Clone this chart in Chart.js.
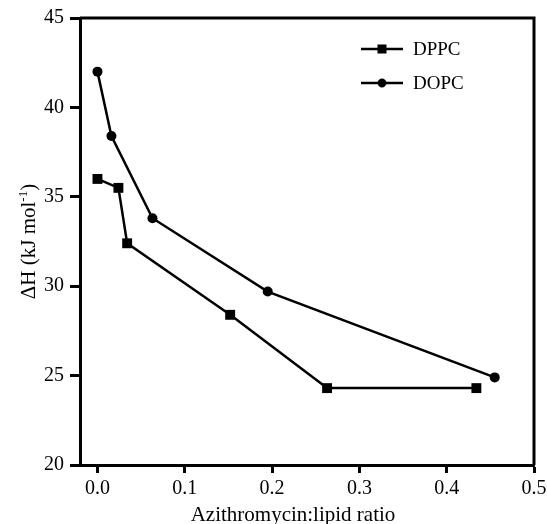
<!DOCTYPE html>
<html>
<head>
<meta charset="utf-8">
<script src="https://cdn.jsdelivr.net/npm/chart.js@4/dist/chart.umd.min.js"></script>
<style>
  body { margin: 0; background: #fff; }
  canvas { display: block; }
</style>
</head>
<body>
<canvas id="chart" width="547" height="524"></canvas>
<script>
const dppcX = [0, 0.024, 0.034, 0.152, 0.263, 0.434];
const dppcY = [36.0, 35.5, 32.4, 28.4, 24.3, 24.3];
const dopcX = [0, 0.016, 0.063, 0.195, 0.455];
const dopcY = [42.0, 38.4, 33.8, 29.7, 24.9];
const xTicks = [0, 0.1, 0.2, 0.3, 0.4, 0.5];
const yTicks = [20, 25, 30, 35, 40, 45];
const seriesNames = ['DPPC', 'DOPC'];

const serif = "'Liberation Serif', 'Times New Roman', serif";

function toPoints(xs, ys) {
  return xs.map(function (x, i) { return { x: x, y: ys[i] }; });
}

// frame, legend and axis titles (the y title needs a superscript)
const extras = {
  id: 'extras',
  afterDraw: function (chart) {
    const ctx = chart.ctx;
    const area = chart.chartArea;
    ctx.save();
    ctx.strokeStyle = '#000';
    ctx.lineWidth = 3;
    ctx.beginPath();
    ctx.moveTo(area.left, area.top);
    ctx.lineTo(area.right, area.top);
    ctx.lineTo(area.right, area.bottom);
    ctx.stroke();

    // legend
    const styles = ['rect', 'circle'];
    const radii = [6, 4.2];
    const rows = [49, 83];
    ctx.fillStyle = '#000';
    seriesNames.forEach(function (name, i) {
      ctx.lineWidth = 2.5;
      ctx.beginPath();
      ctx.moveTo(361, rows[i]);
      ctx.lineTo(403, rows[i]);
      ctx.stroke();
      ctx.lineWidth = 0.5;
      Chart.helpers.drawPoint(ctx, { pointStyle: styles[i], radius: radii[i], borderWidth: 0.5 }, 382, rows[i]);
      ctx.font = '19px ' + serif;
      ctx.textBaseline = 'middle';
      ctx.textAlign = 'left';
      ctx.fillText(name, 413, rows[i] + 1);
    });

    // x title
    ctx.font = '21px ' + serif;
    ctx.textAlign = 'center';
    ctx.textBaseline = 'alphabetic';
    ctx.fillText('Azithromycin:lipid ratio', 293, 521);

    // y title
    const main = '\u0394H (kJ mol';
    const sup = '-1';
    const close = ')';
    ctx.font = '21px ' + serif;
    const wMain = ctx.measureText(main).width;
    const wClose = ctx.measureText(close).width;
    ctx.font = '13px ' + serif;
    const wSup = ctx.measureText(sup).width;
    const total = wMain + wSup + wClose;
    ctx.translate(35, (area.top + area.bottom) / 2);
    ctx.rotate(-Math.PI / 2);
    ctx.textAlign = 'left';
    let x = -total / 2;
    ctx.font = '21px ' + serif;
    ctx.fillText(main, x, 0);
    x += wMain;
    ctx.font = '13px ' + serif;
    ctx.fillText(sup, x, -8);
    x += wSup;
    ctx.font = '21px ' + serif;
    ctx.fillText(close, x, 0);
    ctx.restore();
  }
};

const ctx = document.getElementById('chart').getContext('2d');

new Chart(ctx, {
  type: 'line',
  data: {
    datasets: [
      {
        label: seriesNames[0],
        data: toPoints(dppcX, dppcY),
        borderColor: '#000',
        backgroundColor: '#000',
        borderWidth: 2.5,
        pointStyle: 'rect',
        pointRadius: 7,
        pointBorderWidth: 0,
        tension: 0,
      },
      {
        label: seriesNames[1],
        data: toPoints(dopcX, dopcY),
        borderColor: '#000',
        backgroundColor: '#000',
        borderWidth: 2.5,
        pointStyle: 'circle',
        pointRadius: 5,
        pointBorderWidth: 0,
        tension: 0,
      },
    ],
  },
  options: {
    responsive: false,
    animation: false,
    layout: { padding: { left: 0, top: 18, right: 13, bottom: 0 } },
    plugins: {
      legend: { display: false },
      tooltip: { enabled: false },
    },
    scales: {
      x: {
        type: 'linear',
        min: -0.02,
        max: 0.5,
        afterBuildTicks: function (scale) {
          scale.ticks = xTicks.map(function (v) { return { value: v }; });
        },
        afterFit: function (scale) {
          scale.height = 59;
          scale.paddingLeft = 0;
          scale.paddingRight = 0;
        },
        border: { display: true, color: '#000', width: 3 },
        grid: {
          drawOnChartArea: false,
          drawTicks: true,
          tickLength: 8,
          tickWidth: 3,
          tickColor: '#000',
        },
        ticks: {
          color: '#000',
          padding: 4,
          maxRotation: 0,
          font: { family: serif, size: 20 },
          callback: function (value) { return Number(value).toFixed(1); },
        },
      },
      y: {
        type: 'linear',
        min: 20,
        max: 45,
        afterBuildTicks: function (scale) {
          scale.ticks = yTicks.map(function (v) { return { value: v }; });
        },
        afterFit: function (scale) {
          scale.width = 80;
          scale.paddingTop = 0;
          scale.paddingBottom = 0;
        },
        border: { display: true, color: '#000', width: 3 },
        grid: {
          drawOnChartArea: false,
          drawTicks: true,
          tickLength: 10,
          tickWidth: 3,
          tickColor: '#000',
        },
        ticks: {
          color: '#000',
          padding: 6,
          font: { family: serif, size: 20 },
        },
      },
    },
  },
  plugins: [extras],
});
</script>
</body>
</html>
